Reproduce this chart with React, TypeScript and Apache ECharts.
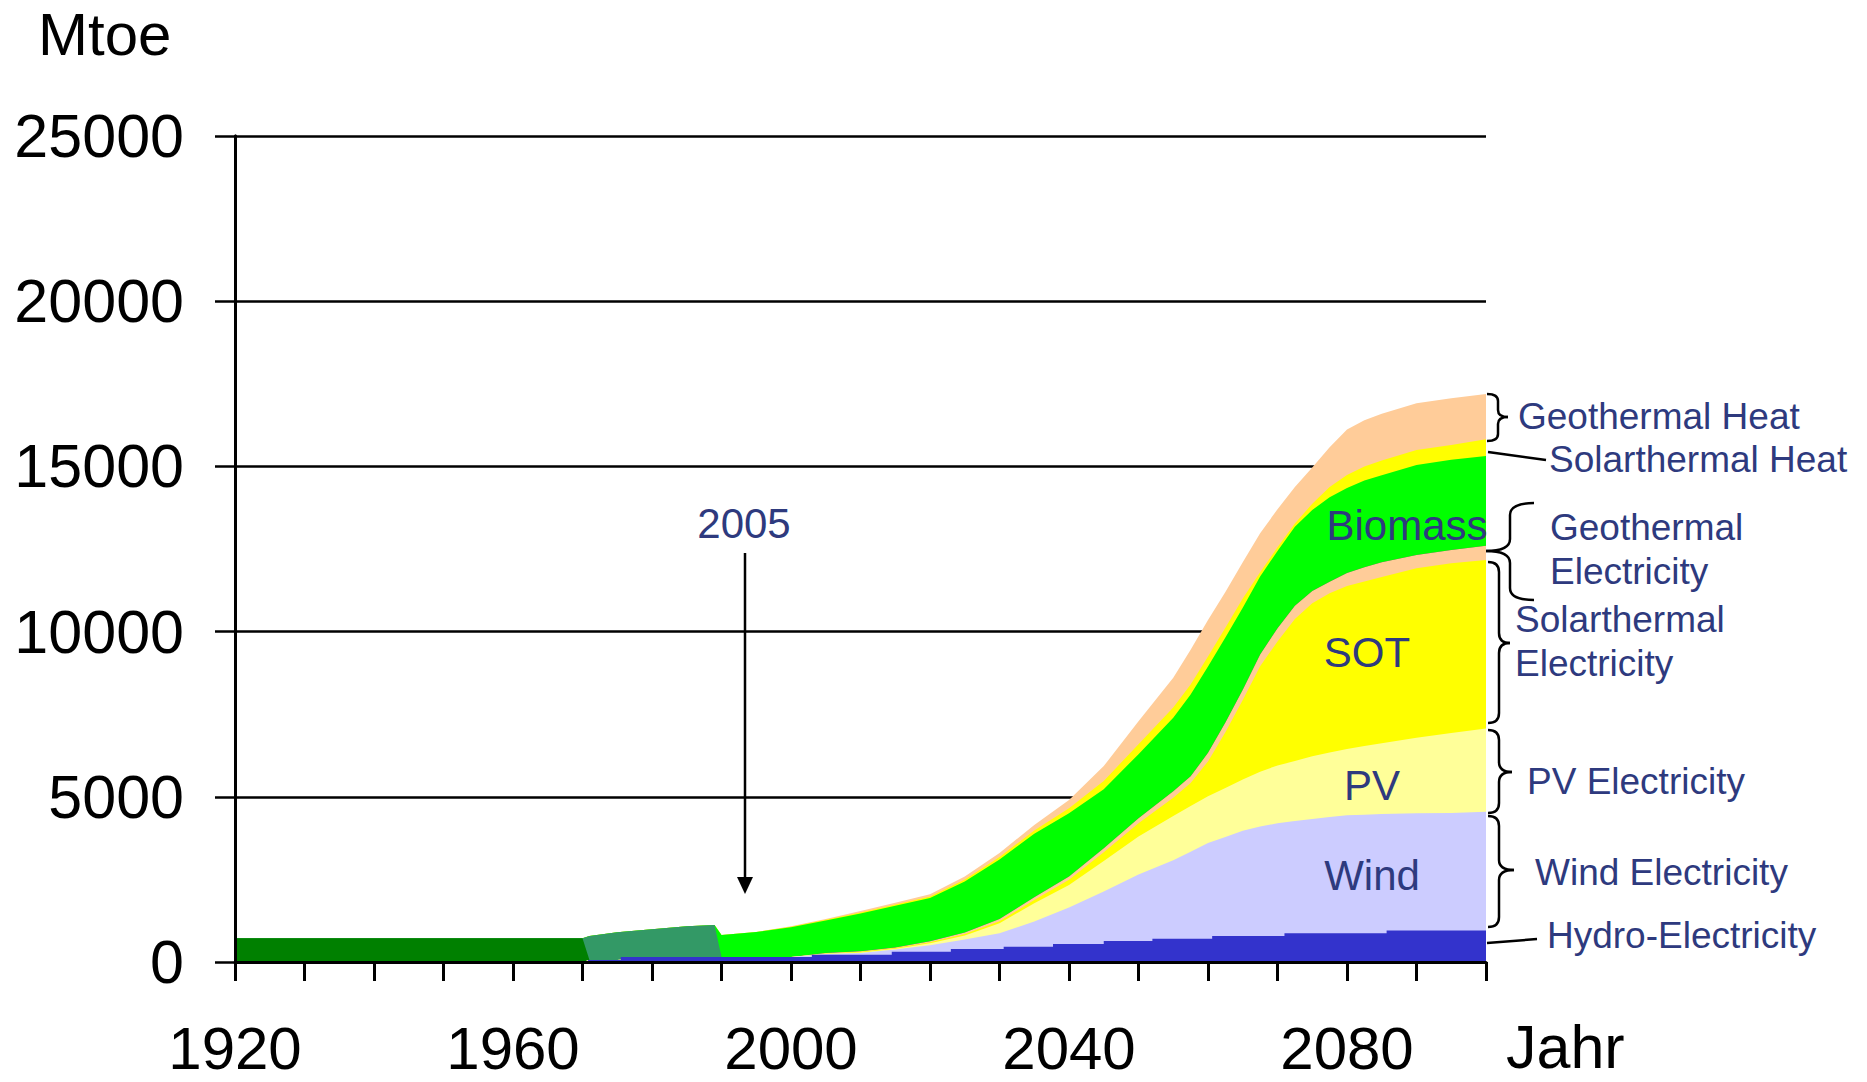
import React, { useEffect, useRef } from "react";
import * as echarts from "echarts";

// ---- data (Mtoe per layer, stacked from bottom) ----
const years = [1920, 1970, 1971, 1975, 1980, 1985, 1989, 1990, 1995,
  2000, 2005, 2010, 2015, 2020, 2025, 2030, 2035, 2040, 2045, 2050, 2055, 2057.5, 2060, 2062.5, 2065, 2067.5, 2070, 2072.5, 2075, 2077.5, 2080, 2082.5, 2085, 2090, 2095, 2100];
const hydro = [0, 0, 60, 60, 151, 151, 151, 151, 151,
  151, 222, 222, 313, 313, 393, 430, 464, 545, 620, 636, 706, 720, 750, 787, 787, 800, 830, 868, 868, 868, 868, 880, 900, 948, 950, 960];
const wind = [0, 0, 0, 0, 0, 0, 0, 0, 0,
  0, 18, 48, 67, 197, 287, 440, 761, 1105, 1510, 2014, 2374, 2620, 2850, 2993, 3183, 3300, 3370, 3402, 3462, 3522, 3572, 3580, 3580, 3552, 3560, 3590];
const pv = [0, 0, 0, 0, 0, 0, 0, 0, 0,
  0, 10, 20, 20, 60, 120, 300, 555, 680, 930, 1150, 1340, 1380, 1420, 1490, 1550, 1660, 1750, 1810, 1900, 1950, 2010, 2080, 2140, 2290, 2420, 2520];
const sot = [0, 0, 0, 0, 0, 0, 0, 0, 0,
  0, 10, 20, 20, 30, 50, 60, 100, 160, 260, 400, 550, 700, 1050, 1680, 2410, 3190, 3750, 4300, 4630, 4820, 4930, 4980, 5030, 5126, 5140, 5098];
const geoElec = [0, 0, 0, 0, 0, 0, 0, 0, 0,
  0, 10, 15, 20, 30, 40, 70, 80, 100, 120, 150, 200, 200, 260, 300, 310, 360, 400, 400, 370, 350, 390, 430, 450, 404, 400, 432];
const tradBiomass = [720, 720, 0, 0, 0, 0, 0, 0, 0,
  0, 0, 0, 0, 0, 0, 0, 0, 0, 0, 0, 0, 0, 0, 0, 0, 0, 0, 0, 0, 0, 0, 0, 0, 0, 0, 0];
const histBiomass = [0, 0, 727, 840, 839, 929, 969, 0, 0,
  0, 0, 0, 0, 0, 0, 0, 0, 0, 0, 0, 0, 0, 0, 0, 0, 0, 0, 0, 0, 0, 0, 0, 0, 0, 0, 0];
const biomass = [0, 0, 0, 0, 0, 0, 0, 666, 759,
  899, 985, 1145, 1265, 1305, 1550, 1800, 1920, 1910, 1790, 1940, 2220, 2480, 2610, 2570, 2480, 2360, 2340, 2390, 2450, 2560, 2580, 2620, 2630, 2720, 2730, 2715];
const solarHeat = [0, 0, 0, 0, 0, 0, 0, 0, 0,
  15, 20, 30, 35, 45, 60, 80, 100, 150, 250, 300, 310, 300, 310, 300, 280, 130, 110, 100, 190, 310, 390, 430, 450, 460, 450, 505];
const geoHeat = [0, 0, 0, 0, 0, 0, 0, 0, 0,
  15, 25, 40, 50, 70, 90, 120, 170, 250, 450, 700, 900, 1050, 1100, 1080, 1100, 1180, 1150, 1110, 1100, 1200, 1380, 1400, 1410, 1410, 1415, 1370];

// hydro drawn as the stepped band seen in the picture
const hydroStepYears = [1920, 1970.8, 1975.5, 2003, 2014.5, 2023, 2030.6, 2037.7, 2045, 2052, 2060.6, 2071, 2085.7, 2100];
const hydroStepLevels = [0, 60, 151, 222, 313, 393, 464, 545, 636, 706, 787, 868, 955, 955];

const yTicks = [0, 5000, 10000, 15000, 20000, 25000];
const xLabelYears = [1920, 1960, 2000, 2040, 2080];

const NAVY = "#2E3A7E";
const FONT = '"Liberation Sans", Arial, sans-serif';

const layers = [
  { name: "Hydro-Electricity", vals: hydro, color: "#3333CC" },
  { name: "Wind Electricity", vals: wind, color: "#CCCCFF" },
  { name: "PV Electricity", vals: pv, color: "#FFFF99" },
  { name: "Solarthermal Electricity", vals: sot, color: "#FFFF00" },
  { name: "Geothermal Electricity", vals: geoElec, color: "#FFCC99" },
  { name: "Traditional Biomass", vals: tradBiomass, color: "#008000" },
  { name: "Biomass (historic)", vals: histBiomass, color: "#339966" },
  { name: "Biomass", vals: biomass, color: "#00FF00" },
  { name: "Solarthermal Heat", vals: solarHeat, color: "#FFFF00" },
  { name: "Geothermal Heat", vals: geoHeat, color: "#FFCC99" },
];

type Seg = any;

function brace(x0: number, xv: number, xt: number, y1: number, ym: number, y2: number, r: number): Seg[] {
  const st = { stroke: "#000", lineWidth: 2.5, fill: "none" };
  return [
    { type: "bezierCurve", z: 100, shape: { x1: x0, y1: y1, x2: xv, y2: y1 + r, cpx1: xv, cpy1: y1 }, style: st },
    { type: "line", z: 100, shape: { x1: xv, y1: y1 + r, x2: xv, y2: ym - r }, style: st },
    { type: "bezierCurve", z: 100, shape: { x1: xv, y1: ym - r, x2: xt, y2: ym, cpx1: xv, cpy1: ym }, style: st },
    { type: "bezierCurve", z: 100, shape: { x1: xt, y1: ym, x2: xv, y2: ym + r, cpx1: xv, cpy1: ym }, style: st },
    { type: "line", z: 100, shape: { x1: xv, y1: ym + r, x2: xv, y2: y2 - r }, style: st },
    { type: "bezierCurve", z: 100, shape: { x1: xv, y1: y2 - r, x2: x0, y2: y2, cpx1: xv, cpy1: y2 }, style: st },
  ];
}

function txt(text: string, x: number, y: number, size: number, fill: string, align = "left"): Seg {
  return {
    type: "text",
    z: 100,
    x,
    y,
    style: { text, fill, fontSize: size, fontFamily: FONT, align, verticalAlign: "middle", lineHeight: Math.round(size * 0.9) },
  };
}

export default function App() {
  const ref = useRef<HTMLDivElement>(null);

  useEffect(() => {
    const chart = echarts.init(ref.current!, null, { renderer: "svg" });

    // cumulative tops of each layer
    const cum: number[][] = [];
    layers.forEach((l, k) => {
      cum.push(l.vals.map((v, i) => v + (k > 0 ? cum[k - 1][i] : 0)));
    });

    // draw from the top layer down; each opaque area fills to 0 and lower ones cover it
    const series: any[] = layers
      .map((l, k) => ({
        name: l.name,
        type: "line",
        data: years.map((y, i) => [y, cum[k][i]]),
        symbol: "none",
        showSymbol: false,
        silent: true,
        lineStyle: { width: 0 },
        areaStyle: { color: l.color, opacity: 1 },
        yAxisIndex: 0,
      }))
      .slice(1)
      .reverse();
    series.push({
      name: "Hydro-Electricity",
      type: "line",
      step: "end",
      data: hydroStepYears.map((y, i) => [y, hydroStepLevels[i]]),
      symbol: "none",
      showSymbol: false,
      silent: true,
      lineStyle: { width: 0 },
      areaStyle: { color: layers[0].color, opacity: 1 },
      yAxisIndex: 0,
    });

    const lineSt = { stroke: "#000", lineWidth: 2.5 };

    chart.setOption({
      animation: false,
      backgroundColor: "#fff",
      textStyle: { fontFamily: FONT },
      grid: { left: 235, right: 381, top: 136, bottom: 120, containLabel: false, outerBoundsMode: "none" },
      xAxis: {
        type: "value",
        min: 1920,
        max: 2100,
        interval: 10,
        z: 10,
        axisLine: { show: true, onZero: false, lineStyle: { color: "#000", width: 3 } },
        axisTick: { show: true, length: 19, lineStyle: { color: "#000", width: 3 } },
        axisLabel: {
          fontSize: 60,
          lineHeight: 50,
          color: "#000",
          fontFamily: FONT,
          margin: 86,
          verticalAlign: "middle",
          formatter: (v: number) => (xLabelYears.indexOf(v) >= 0 ? String(v) : ""),
        },
        splitLine: { show: false },
      },
      yAxis: [
        {
          type: "value",
          min: yTicks[0],
          max: yTicks[yTicks.length - 1],
          interval: 5000,
          position: "left",
          axisLine: { show: true, lineStyle: { color: "#000", width: 3 } },
          axisTick: { show: true, length: 20, lineStyle: { color: "#000", width: 2.5 } },
          axisLabel: { fontSize: 61, color: "#000", fontFamily: FONT, margin: 51, formatter: (v: number) => String(v) },
          splitLine: { show: true, lineStyle: { color: "#000", width: 2.5 } },
        },
        {
          type: "value",
          min: yTicks[0],
          max: yTicks[yTicks.length - 1],
          interval: 5000,
          position: "left",
          z: 10,
          axisLine: { show: true, lineStyle: { color: "#000", width: 3 } },
          axisTick: { show: false },
          axisLabel: { show: false },
          splitLine: { show: false },
        },
      ],
      series,
      graphic: [
        txt("Mtoe", 38, 34, 60, "#000"),
        txt("Jahr", 1506, 1047, 61, "#000"),
        // in-plot labels
        txt("Biomass", 1407, 525, 42, NAVY, "center"),
        txt("SOT", 1367, 652, 42, NAVY, "center"),
        txt("PV", 1372, 785, 42, NAVY, "center"),
        txt("Wind", 1372, 875, 42, NAVY, "center"),
        // 2005 annotation
        txt("2005", 744, 523, 42, NAVY, "center"),
        { type: "line", z: 100, shape: { x1: 745, y1: 553, x2: 745, y2: 880 }, style: lineSt },
        { type: "polygon", z: 100, shape: { points: [[737, 877], [753, 877], [745, 894]] }, style: { fill: "#000" } },
        // right side labels
        txt("Geothermal Heat", 1518, 416, 37, NAVY),
        txt("Solarthermal Heat", 1549, 459, 37, NAVY),
        txt("Geothermal", 1550, 527, 37, NAVY),
        txt("Electricity", 1550, 571, 37, NAVY),
        txt("Solarthermal", 1515, 619, 37, NAVY),
        txt("Electricity", 1515, 663, 37, NAVY),
        txt("PV Electricity", 1527, 781, 37, NAVY),
        txt("Wind Electricity", 1535, 872, 37, NAVY),
        txt("Hydro-Electricity", 1547, 935, 37, NAVY),
        // braces and leader lines
        ...brace(1487, 1498, 1508, 394, 417, 441, 7),
        { type: "line", z: 100, shape: { x1: 1488, y1: 452, x2: 1546, y2: 460 }, style: lineSt },
        ...brace(1534, 1510, 1486, 503, 551, 600, 12),
        ...brace(1488, 1499, 1510, 562, 643, 723, 10),
        ...brace(1488, 1499, 1512, 730, 772, 813, 10),
        ...brace(1488, 1499, 1514, 816, 870, 927, 10),
        { type: "line", z: 100, shape: { x1: 1487, y1: 943, x2: 1537, y2: 939 }, style: lineSt },
      ],
    });

    return () => chart.dispose();
  }, []);

  return (
    <div
      ref={ref}
      style={{ position: "fixed", left: 0, top: 0, width: 1867, height: 1082, background: "#fff" }}
    />
  );
}
